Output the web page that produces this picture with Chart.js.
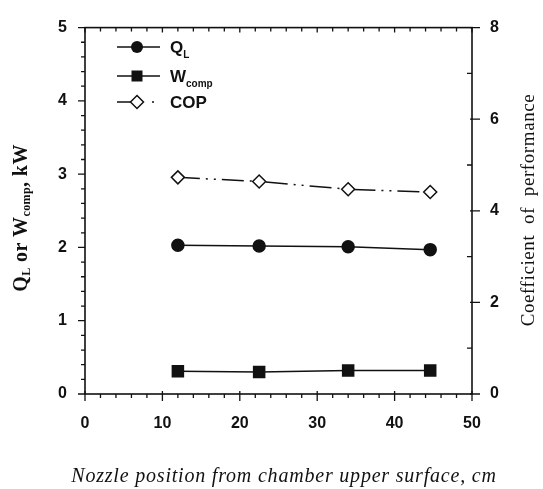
<!DOCTYPE html>
<html>
<head>
<meta charset="utf-8">
<script src="https://cdn.jsdelivr.net/npm/chart.js@4"></script>
<style>
  html, body { margin: 0; padding: 0; background: #fff; }
  #wrap { width: 543px; height: 489px; }
</style>
</head>
<body>
<div id="wrap"><canvas id="chart" width="543" height="489"></canvas></div>
<script>
// ── Data ───────────────────────────────────────────────────
const nozzlePos = [12, 22.5, 34, 44.6];          // cm
const qL        = [2.03, 2.02, 2.01, 1.97];      // kW
const wComp     = [0.31, 0.30, 0.32, 0.32];      // kW
const cop       = [4.73, 4.64, 4.47, 4.41];      // -

const xTicks  = { min: 0, max: 50, major: 10, minor: 2 };
const yTicks  = { min: 0, max: 5,  major: 1,  minor: 0.2 };
const y2Ticks = { min: 0, max: 8,  major: 2,  minor: 1 };

const ink = '#111';
const sans = "'Liberation Sans', Arial, sans-serif";
const serif = "'Liberation Serif', 'Times New Roman', serif";

const pts = ys => nozzlePos.map((x, i) => ({ x, y: ys[i] }));

// draw a run of text pieces (for subscripts), centred on (x, y)
function richText(ctx, parts, x, y, rot) {
  ctx.save();
  ctx.translate(x, y);
  ctx.rotate(rot || 0);
  ctx.textBaseline = 'alphabetic';
  let total = 0;
  parts.forEach(p => { ctx.font = p.font; p.w = ctx.measureText(p.t).width; total += p.w; });
  let cx = -total / 2;
  parts.forEach(p => {
    ctx.font = p.font;
    ctx.fillStyle = ink;
    ctx.textAlign = 'left';
    ctx.fillText(p.t, cx, p.dy || 0);
    cx += p.w;
  });
  ctx.restore();
}

function marker(ctx, style, x, y) {
  ctx.save();
  ctx.lineWidth = 1.5;
  ctx.strokeStyle = ink;
  ctx.beginPath();
  if (style === 'circle') {
    ctx.arc(x, y, 6, 0, Math.PI * 2);
    ctx.fillStyle = ink; ctx.fill();
  } else if (style === 'rect') {
    ctx.rect(x - 5.5, y - 5.5, 11, 11);
    ctx.fillStyle = ink; ctx.fill();
  } else {
    ctx.moveTo(x, y - 6.5); ctx.lineTo(x + 6.5, y); ctx.lineTo(x, y + 6.5); ctx.lineTo(x - 6.5, y); ctx.closePath();
    ctx.fillStyle = '#fff'; ctx.fill(); ctx.stroke();
  }
  ctx.restore();
}

// ── Frame, minor ticks, titles and legend ──────────────────
const decor = {
  id: 'decor',
  afterDraw(chart) {
    const { ctx, chartArea: a, scales } = chart;
    const { x, y, y2 } = scales;
    ctx.save();
    ctx.strokeStyle = ink;
    ctx.lineWidth = 1.6;
    ctx.strokeRect(a.left, a.top, a.right - a.left, a.bottom - a.top);

    ctx.lineWidth = 1.3;
    ctx.beginPath();
    // left: outward
    const ny = Math.round((yTicks.max - yTicks.min) / yTicks.minor);
    for (let i = 0; i <= ny; i++) {
      const v = yTicks.min + i * yTicks.minor;
      const p = y.getPixelForValue(v);
      const len = (i % 5 === 0) ? 7 : 4;
      ctx.moveTo(a.left - len, p); ctx.lineTo(a.left, p);
    }
    // bottom: outward, top: inward
    const nx = Math.round((xTicks.max - xTicks.min) / xTicks.minor);
    for (let i = 0; i <= nx; i++) {
      const v = xTicks.min + i * xTicks.minor;
      const p = x.getPixelForValue(v);
      const major = i % 5 === 0;
      ctx.moveTo(p, a.bottom + (major ? 7 : 4)); ctx.lineTo(p, a.bottom - (major ? 3 : 0));
      ctx.moveTo(p, a.top); ctx.lineTo(p, a.top + (major ? 5 : 4));
    }
    // right: majors outward, minors inward
    const n2 = Math.round((y2Ticks.max - y2Ticks.min) / y2Ticks.minor);
    for (let i = 0; i <= n2; i++) {
      const v = y2Ticks.min + i * y2Ticks.minor;
      const p = y2.getPixelForValue(v);
      if (i % 2 === 0) { ctx.moveTo(a.right - 2, p); ctx.lineTo(a.right + 8, p); }
      else { ctx.moveTo(a.right - 5, p); ctx.lineTo(a.right, p); }
    }
    ctx.stroke();
    ctx.restore();

    // axis titles
    const tb = "bold 20px " + serif, ts = "bold 12px " + serif;
    ctx.save();
    ctx.letterSpacing = '0.4px';
    richText(ctx, [
      { t: 'Q', font: tb }, { t: 'L', font: ts, dy: 3 },
      { t: ' or W', font: tb }, { t: 'comp', font: ts, dy: 3 },
      { t: ', kW', font: tb },
    ], 27, 218, -Math.PI / 2);

    ctx.letterSpacing = '0.6px';
    richText(ctx, [{ t: 'Coefficient  of  performance', font: '19px ' + serif }], 534, 210, -Math.PI / 2);
    ctx.letterSpacing = '0.8px';
    richText(ctx, [{ t: 'Nozzle position from chamber upper surface, cm', font: 'italic 20px ' + serif }], 284, 482, 0);
    ctx.restore();

    // legend
    const rows = [
      { style: 'circle', parts: [{ t: 'Q', font: 'bold 17px ' + sans }, { t: 'L', font: 'bold 10px ' + sans, dy: 5 }] },
      { style: 'rect',   parts: [{ t: 'W', font: 'bold 17px ' + sans }, { t: 'comp', font: 'bold 10px ' + sans, dy: 5 }] },
      { style: 'diamond', parts: [{ t: 'COP', font: 'bold 17px ' + sans }] },
    ];
    const rowY = [47, 76, 102];
    rows.forEach((r, i) => {
      const ly = rowY[i];
      ctx.save();
      ctx.strokeStyle = ink; ctx.lineWidth = 1.5;
      ctx.beginPath();
      if (r.style === 'diamond') {
        ctx.moveTo(117, ly); ctx.lineTo(137, ly);
        ctx.moveTo(152, ly); ctx.lineTo(154, ly);
      } else {
        ctx.moveTo(117, ly); ctx.lineTo(160, ly);
      }
      ctx.stroke();
      ctx.restore();
      marker(ctx, r.style, 137, ly);
      let w = 0;
      r.parts.forEach(p => { ctx.font = p.font; w += ctx.measureText(p.t).width; });
      richText(ctx, r.parts, 170 + w / 2, ly + 6, 0);
    });
  },
};

const tickFont = { family: sans, size: 16, weight: 'bold' };

new Chart(document.getElementById('chart'), {
  type: 'line',
  data: {
    datasets: [
      {
        label: 'QL',
        data: pts(qL),
        yAxisID: 'y',
        borderColor: ink,
        borderWidth: 1.5,
        pointStyle: 'circle',
        pointRadius: 6,
        pointBackgroundColor: ink,
        pointBorderColor: ink,
      },
      {
        label: 'Wcomp',
        data: pts(wComp),
        yAxisID: 'y',
        borderColor: ink,
        borderWidth: 1.5,
        pointStyle: 'rect',
        pointRadius: 7.8,
        pointBackgroundColor: ink,
        pointBorderColor: ink,
      },
      {
        label: 'COP',
        data: pts(cop),
        yAxisID: 'y2',
        borderColor: ink,
        borderWidth: 1.5,
        borderDash: [22, 6, 2, 6, 2, 6],
        pointStyle: 'rectRot',
        pointRadius: 6.5,
        pointBorderWidth: 1.5,
        pointBackgroundColor: '#fff',
        pointBorderColor: ink,
      },
    ],
  },
  options: {
    responsive: false,
    animation: false,
    events: [],
    layout: { padding: { top: 12, left: 0, right: 0, bottom: 0 } },
    plugins: { legend: { display: false }, tooltip: { enabled: false } },
    scales: {
      x: {
        type: 'linear',
        min: xTicks.min, max: xTicks.max,
        ticks: { stepSize: xTicks.major, color: ink, font: tickFont, padding: 20 },
        grid: { display: false, drawTicks: false },
        border: { display: false },
        afterFit: s => { s.height = 95; },
      },
      y: {
        position: 'left',
        min: yTicks.min, max: yTicks.max,
        ticks: { stepSize: yTicks.major, color: ink, font: tickFont, padding: 18 },
        grid: { display: false, drawTicks: false },
        border: { display: false },
        afterFit: s => { s.width = 85; },
      },
      y2: {
        position: 'right',
        min: y2Ticks.min, max: y2Ticks.max,
        ticks: { stepSize: y2Ticks.major, color: ink, font: tickFont, padding: 18 },
        grid: { display: false, drawTicks: false },
        border: { display: false },
        afterFit: s => { s.width = 71; },
      },
    },
  },
  plugins: [decor],
});
</script>
</body>
</html>
